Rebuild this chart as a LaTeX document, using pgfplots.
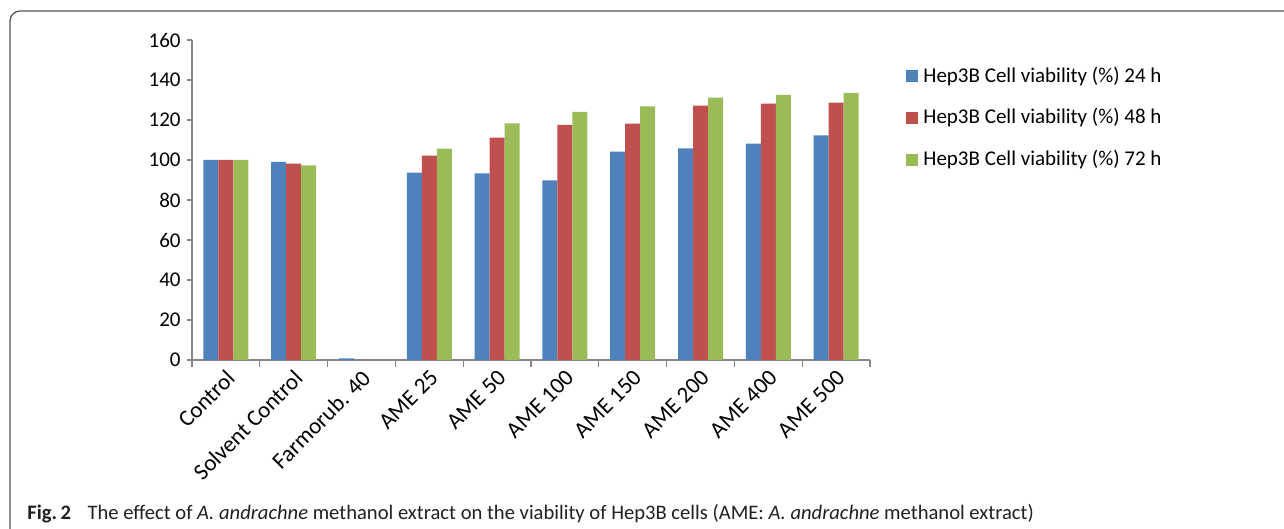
\documentclass[border=0pt]{standalone}
\usepackage{fontspec}
\setmainfont{Carlito}
\usepackage{pgfplots}
\pgfplotsset{compat=1.18}
\definecolor{s24}{HTML}{4F81BD}
\definecolor{s48}{HTML}{C0504D}
\definecolor{s72}{HTML}{9BBB59}
\definecolor{axisgray}{HTML}{868686}
\definecolor{framegray}{HTML}{555555}
\definecolor{captext}{HTML}{231F20}

\begin{document}
\begin{tikzpicture}
\path[use as bounding box] (0,0) rectangle (642pt,264.5pt);
% outer figure frame
\draw[framegray, line width=0.65pt, rounded corners=5pt]
  (5pt,-2pt) -- (5pt,259pt) -- (644pt,259pt);
\begin{axis}[
  at={(96pt,84.5pt)}, anchor=south west,
  width=339pt, height=160pt, scale only axis,
  ybar=0pt, bar width=7.5pt,
  xmin=-0.5, xmax=9.5, ymin=0, ymax=160,
  ytick={0,20,...,160},
  xtick={0,...,9},
  xticklabels={Control,Solvent Control,Farmorub. 40,AME 25,AME 50,AME 100,AME 150,AME 200,AME 400,AME 500},
  minor xtick={-0.5,0.5,...,9.5},
  axis lines=left,
  axis line style={-, axisgray, line width=0.6pt},
  tick align=outside,
  major tick length=2.5pt, minor tick length=3.5pt,
  tick style={axisgray, line width=0.6pt},
  major x tick style={draw=none},
  /pgf/number format/assume math mode=true,
  yticklabel style={font=\fontsize{10.5pt}{12pt}\selectfont, anchor=east, inner sep=0pt, xshift=-3pt},
  xticklabel style={font=\fontsize{11.5pt}{12pt}\selectfont, inner sep=0pt, xshift=2.5pt, yshift=-4.5pt, rotate=45, anchor=east},
  legend style={at={(axis description cs:1.0531,0.757)}, anchor=west, draw=none, fill=none,
    font=\fontsize{10.5pt}{12pt}\selectfont, row sep=11.75pt, inner sep=0pt,
    nodes={inner sep=0pt}},
  legend image code/.code={\fill[#1] (0pt,-3pt) rectangle (6pt,3pt); \path (0pt,0pt) -- (8.5pt,0pt);},
  legend cell align=left,
]
\addplot[fill=s24, draw=none] coordinates {(0,100) (1,99) (2,0.8) (3,93.7) (4,93.3) (5,89.8) (6,104.2) (7,105.8) (8,108.2) (9,112.3)};
\addplot[fill=s48, draw=none] coordinates {(0,100) (1,98.2) (2,0) (3,102.2) (4,111.2) (5,117.5) (6,118.2) (7,127.2) (8,128.2) (9,128.7)};
\addplot[fill=s72, draw=none] coordinates {(0,100) (1,97.3) (2,0) (3,105.7) (4,118.3) (5,124) (6,126.8) (7,131.2) (8,132.5) (9,133.5)};
\legend{Hep3B Cell viability (\%) 24 h, Hep3B Cell viability (\%) 48 h, Hep3B Cell viability (\%) 72 h}
\end{axis}
\node[anchor=base west, inner sep=0pt, font=\fontsize{10.3pt}{12pt}\selectfont, text=captext] at (13.5pt,4.5pt)
  {\textbf{Fig.\,2}\hspace{0.8em}The effect of \textit{A. andrachne} methanol extract on the viability of Hep3B cells (AME: \textit{A. andrachne} methanol extract)};
\end{tikzpicture}
\end{document}
